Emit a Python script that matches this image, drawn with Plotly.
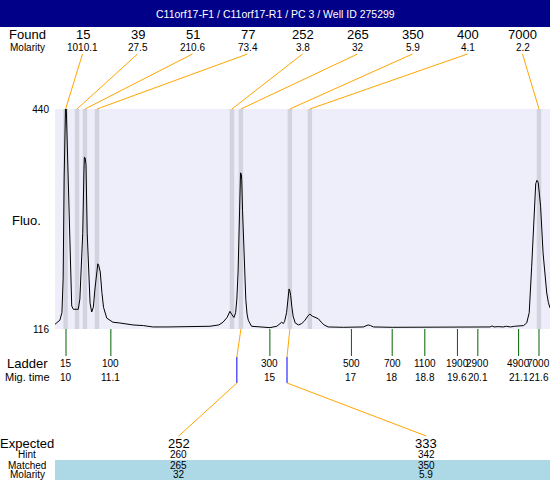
import plotly.graph_objects as go

# ---------------- data ----------------
trace_time = [9.73, 9.85, 9.90, 9.93, 9.955, 9.975, 9.99, 10.005, 10.02, 10.06, 10.10, 10.14, 10.18,
              10.30, 10.34, 10.38, 10.41, 10.44, 10.45, 10.47, 10.49, 10.52, 10.56, 10.59, 10.63,
              10.67, 10.71, 10.74, 10.78, 10.80, 10.84, 10.88, 10.92, 11.00, 11.15, 11.30, 11.49,
              11.64, 11.9, 12.13, 12.5, 12.97, 13.3, 13.53, 13.75, 13.85, 13.95, 14.02, 14.07,
              14.12, 14.16, 14.19, 14.22, 14.25, 14.27, 14.28, 14.30, 14.31, 14.33, 14.35, 14.38,
              14.41, 14.44, 14.47, 14.55, 14.75, 15.00, 15.17, 15.29, 15.33, 15.36, 15.41, 15.45,
              15.47, 15.49, 15.51, 15.54, 15.57, 15.62, 15.70, 15.78, 15.85, 15.93, 15.98, 16.04,
              16.12, 16.19, 16.26, 16.33, 16.43, 16.8, 17.29, 17.35, 17.41, 17.47, 17.54, 18.0,
              18.5, 19.09, 19.6, 20.0, 20.40, 20.45, 20.50, 20.6, 20.72, 20.8, 20.9, 21.0, 21.13,
              21.22, 21.30, 21.36, 21.42, 21.48, 21.52, 21.55, 21.58, 21.61, 21.64, 21.70, 21.75,
              21.79, 21.83, 21.87]
trace_fluo = [123, 129, 140, 190, 340, 445, 450, 445, 410, 320, 243, 150, 145,
              145, 160, 210, 257, 350, 369, 368, 358, 257, 190, 154, 141,
              148, 175, 195, 212, 210, 200, 170, 148, 132, 126, 125, 123,
              122, 121, 119, 119, 119, 120, 120, 122, 126, 133, 142, 137,
              133, 140, 160, 200, 257, 320, 346, 344, 335, 290, 257, 200,
              159, 138, 129, 120, 119, 118, 120, 126, 124, 127, 140, 165,
              175, 172, 165, 148, 135, 125, 122, 124, 128, 135, 138, 135,
              133, 131, 126, 122, 119, 118.5, 119, 121, 122, 121, 119, 118.5,
              118.5, 118.5, 118.5, 118.5, 119, 120.5, 119, 119.5, 119, 120, 119, 120, 120,
              121, 125, 140, 207, 296, 330, 335, 332, 315, 296, 228, 190,
              169, 155, 147]

found_sizes = [15, 39, 51, 77, 252, 265, 350, 400, 7000]
found_molarity = ["1010.1", "27.5", "210.6", "73.4", "3.8", "32", "5.9", "4.1", "2.2"]
found_times = [9.99, 10.27, 10.465, 10.76, 14.07, 14.29, 15.49, 15.98, 21.6]

ladder_sizes = [15, 100, 300, 500, 700, 1100, 1900, 2900, 4900, 7000]
ladder_times = [10, 11.1, 15, 17, 18, 18.8, 19.6, 20.1, 21.1, 21.6]
ladder_time_labels = ["10", "11.1", "15", "17", "18", "18.8", "19.6", "20.1", "21.1", "21.6"]

expected_sizes = [252, 333]
hint_sizes = [260, 342]
matched_sizes = [265, 350]
matched_molarity = ["32", "5.9"]
matched_times = [14.29, 15.49]
hint_times = [14.19, 15.42]

title_text = "C11orf17-F1 / C11orf17-R1 / PC 3 / Well ID 275299"

# ---------------- layout helpers ----------------
W, H = 550, 480
L, T, B = 55, 109, 329
PW, PH = W - L, B - T
X_RANGE = [9.73, 21.87]
Y_RANGE = [116, 440]
FONT = "Liberation Sans, Arial, sans-serif"

ORANGE = "#FFA500"
GREEN = "#006400"
BAND = "#D3D3E0"
BG = "#EEEEFB"


def px(x):
    return (x - L) / PW


def py(y):
    return (B - y) / PH


def t_of_px(x):
    return X_RANGE[0] + px(x) * (X_RANGE[1] - X_RANGE[0])


fig = go.Figure()
fig.add_trace(go.Scatter(x=trace_time, y=trace_fluo, mode="lines",
                         line=dict(color="black", width=1), hoverinfo="skip"))

shapes = []
annotations = []


def ann(text, x, y, size, xref="paper", color="black"):
    annotations.append(dict(text=text, x=x, y=y, xref=xref, yref="paper", showarrow=False,
                            xanchor="center", yanchor="middle", borderpad=0,
                            font=dict(family=FONT, size=size, color=color)))


# title bar
shapes.append(dict(type="rect", xref="paper", yref="paper", x0=px(0), x1=px(W), y0=py(27), y1=py(0),
                   fillcolor="#000088", line=dict(width=0)))
ann(title_text, px(275), py(13.5), 10.5, color="white")

# found peak bands
for t in found_times:
    shapes.append(dict(type="rect", xref="x", yref="paper", x0=t - 0.055, x1=t + 0.055, y0=0, y1=1,
                       fillcolor=BAND, line=dict(width=0), layer="below"))

# found labels and connectors
n = len(found_sizes)
ann("Found", px(27), py(34), 13)
ann("Molarity", px(27), py(48), 10)
for i, (s, m, t) in enumerate(zip(found_sizes, found_molarity, found_times)):
    xl = (i + 0.5) / n
    ann(str(s), xl, py(34), 13)
    ann(m, xl, py(48), 10)
    shapes.append(dict(type="line", xref="x", yref="paper", x0=t_of_px(L + xl * PW), y0=py(54),
                       x1=t, y1=1, line=dict(color=ORANGE, width=1)))

# y labels
ann("Fluo.", px(26), py(220), 13)

# ladder
ann("Ladder", px(27), py(363), 13)
ann("Mig. time", px(27), py(377), 11)
for s, t, lab in zip(ladder_sizes, ladder_times, ladder_time_labels):
    shapes.append(dict(type="line", xref="x", yref="paper", x0=t, x1=t, y0=0, y1=py(356),
                       line=dict(color=GREEN, width=1)))
    ann(str(s), t, py(363), 10, xref="x")
    ann(lab, t, py(377), 10, xref="x")

# expected / matched table
shapes.append(dict(type="rect", xref="paper", yref="paper", x0=0, x1=1, y0=py(481), y1=py(460),
                   fillcolor="#ADD8E6", line=dict(width=0)))
ann("Expected", px(27), py(443), 13)
ann("Hint", px(27), py(454.5), 10)
ann("Matched", px(27), py(465), 10)
ann("Molarity", px(27), py(474.5), 10)
m = len(expected_sizes)
for j in range(m):
    xl = (j + 0.5) / m
    ann(str(expected_sizes[j]), xl, py(443), 13)
    ann(str(hint_sizes[j]), xl, py(454.5), 10)
    ann(str(matched_sizes[j]), xl, py(465), 10)
    ann(matched_molarity[j], xl, py(474.5), 10)
    mt, ht = matched_times[j], hint_times[j]
    shapes.append(dict(type="line", xref="x", yref="paper", x0=mt, y0=0, x1=ht, y1=py(357),
                       line=dict(color=ORANGE, width=1)))
    shapes.append(dict(type="line", xref="x", yref="paper", x0=ht, y0=py(357), x1=ht, y1=py(383),
                       line=dict(color="#0000FF", width=1)))
    shapes.append(dict(type="line", xref="x", yref="paper", x0=ht, y0=py(383),
                       x1=t_of_px(L + xl * PW), y1=py(436), line=dict(color=ORANGE, width=1)))

fig.update_layout(
    width=W, height=H,
    margin=dict(l=L, r=0, t=T, b=H - B, pad=0),
    paper_bgcolor="white", plot_bgcolor=BG,
    showlegend=False,
    shapes=shapes, annotations=annotations,
    xaxis=dict(range=X_RANGE, showgrid=False, zeroline=False, showticklabels=False, ticks="",
               showline=False, fixedrange=True),
    yaxis=dict(range=Y_RANGE, showgrid=False, zeroline=False, tickvals=[116, 440],
               ticktext=["116", "440"], ticks="outside", ticklen=3, tickcolor="rgba(0,0,0,0)",
               tickfont=dict(family=FONT, size=10, color="black"), showline=False, fixedrange=True),
    font=dict(family=FONT),
)

fig.write_html("out.html", config={"displayModeBar": False},
               post_script="document.body.style.margin='0px';document.body.style.overflow='hidden';")
